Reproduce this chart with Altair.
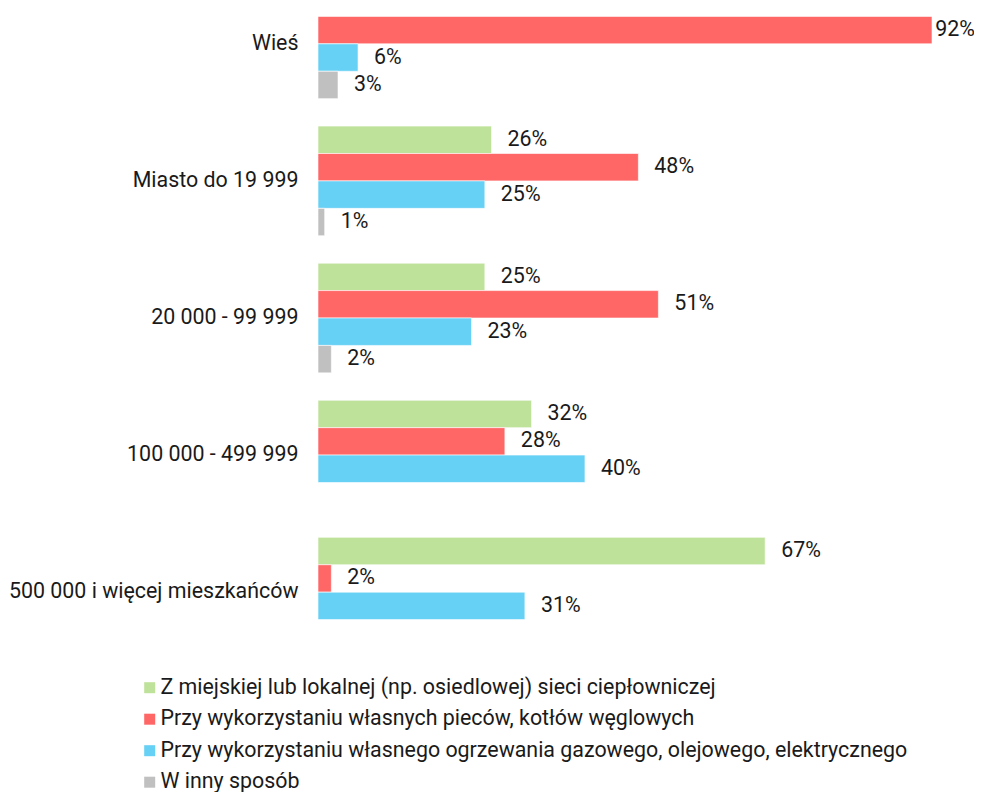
import altair as alt
import pandas as pd

categories = ["Wieś", "Miasto do 19 999", "20 000 - 99 999", "100 000 - 499 999",
              "500 000 i więcej mieszkańców"]
series = [
    "Z miejskiej lub lokalnej (np. osiedlowej) sieci ciepłowniczej",
    "Przy wykorzystaniu własnych pieców, kotłów węglowych",
    "Przy wykorzystaniu własnego ogrzewania gazowego, olejowego, elektrycznego",
    "W inny sposób",
]
colors = ["#bfe29a", "#ff6666", "#66d0f5", "#c0c0c0"]

district_heating = [None, 26, 25, 32, 67]
coal_stoves = [92, 48, 51, 28, 2]
gas_oil_electric = [6, 25, 23, 40, 31]
other_way = [3, 1, 2, None, None]

rows = []
for s, vals in zip(series, [district_heating, coal_stoves, gas_oil_electric, other_way]):
    for c, v in zip(categories, vals):
        if v is not None:
            rows.append({"category": c, "series": s, "value": v, "label": f"{v}%"})
df = pd.DataFrame(rows)

FONT = "Roboto"
TXT = "#1a1a1a"
FS = 21.4

y_enc = alt.Y(
    "category:N",
    sort=categories,
    scale=alt.Scale(domain=categories, paddingInner=0.2, paddingOuter=0),
    axis=alt.Axis(title=None, domain=False, ticks=False, grid=False, labelFontSize=FS,
                  labelFont=FONT, labelColor=TXT, labelPadding=20, labelLimit=500),
)
yoff_enc = alt.YOffset("series:N", scale=alt.Scale(domain=series, paddingInner=0, paddingOuter=0))

base = alt.Chart(df)

bars = base.mark_bar(stroke="white", strokeWidth=0.6).encode(
    y=y_enc,
    yOffset=yoff_enc,
    x=alt.X("value:Q", scale=alt.Scale(domain=[0, 92], nice=False, zero=True), axis=None),
    color=alt.Color(
        "series:N",
        scale=alt.Scale(domain=series, range=colors),
        legend=alt.Legend(
            title=None, orient="none", legendX=-181, legendY=688, direction="vertical",
            symbolType="square", symbolSize=121, symbolStrokeWidth=0, symbolOffset=2,
            labelFontSize=FS, labelFont=FONT, labelColor=TXT, labelLimit=900,
            rowPadding=8.5, labelOffset=0, padding=0,
        ),
    ),
)

labels = base.transform_calculate(
    pos="min(datum.value, 90.1)"
).mark_text(align="left", baseline="middle", dx=16, fontSize=FS, font=FONT, color=TXT).encode(
    y=y_enc,
    yOffset=yoff_enc,
    x=alt.X("pos:Q", scale=alt.Scale(domain=[0, 92], nice=False, zero=True), axis=None),
    text="label:N",
)

chart = alt.layer(bars, labels).properties(
    width=614,
    height=658,
    autosize=alt.AutoSizeParams(type="none"),
    padding={"left": 310, "top": -19, "right": 42, "bottom": 150},
).configure_view(stroke=None)

chart.save("out.html", embed_options={"renderer": "svg", "actions": False})
